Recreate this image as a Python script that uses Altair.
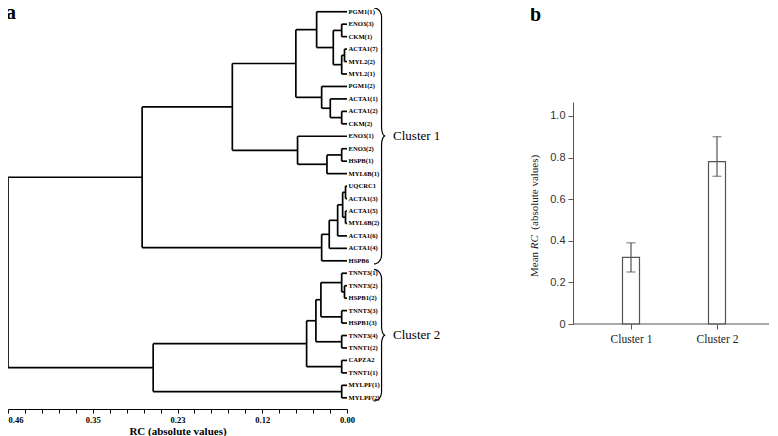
import altair as alt
import pandas as pd
import numpy as np

# ---------------- data: dendrogram (panel a) ----------------
leaves = ["PGM1(1)", "ENO3(3)", "CKM(1)", "ACTA1(7)", "MYL2(2)", "MYL2(1)", "PGM1(2)",
          "ACTA1(1)", "ACTA1(2)", "CKM(2)", "ENO3(1)", "ENO3(2)", "HSPB(1)", "MYL6B(1)",
          "UQCRC1", "ACTA1(3)", "ACTA1(5)", "MYL6B(2)", "ACTA1(6)", "ACTA1(4)", "HSPB6",
          "TNNT3(1)", "TNNT3(2)", "HSPB1(2)", "TNNT3(3)", "HSPB1(3)", "TNNT3(4)", "TNNT1(2)",
          "CAPZA2", "TNNT1(1)", "MYLPF(1)", "MYLPF(2)"]

merge_names = ["E", "G", "F", "D", "C", "J", "I", "H", "B", "M",
               "L", "K", "A", "R", "S", "Q", "P", "O", "N", "C1",
               "X", "W", "Y", "V", "Z", "U", "AA", "T", "BB", "C2", "ROOT"]
merge_left = ["ENO3(3)", "ACTA1(7)", "G", "E", "PGM1(1)", "ACTA1(2)", "ACTA1(1)", "PGM1(2)", "C", "ENO3(2)",
              "M", "ENO3(1)", "B", "UQCRC1", "ACTA1(5)", "R", "Q", "P", "O", "A",
              "TNNT3(2)", "TNNT3(1)", "TNNT3(3)", "W", "TNNT3(4)", "V", "CAPZA2", "U", "MYLPF(1)", "T", "C1"]
merge_right = ["CKM(1)", "MYL2(2)", "MYL2(1)", "F", "D", "CKM(2)", "J", "I", "H", "HSPB(1)",
               "MYL6B(1)", "L", "K", "ACTA1(3)", "MYL6B(2)", "S", "ACTA1(6)", "ACTA1(4)", "HSPB6", "N",
               "HSPB1(2)", "X", "HSPB1(3)", "Y", "TNNT1(2)", "Z", "TNNT1(1)", "AA", "MYLPF(2)", "BB", "C2"]
merge_height = [0.0072, 0.0034, 0.0072, 0.0186, 0.0412, 0.0072, 0.0227, 0.0344, 0.0694, 0.0072,
                0.0272, 0.0671, 0.1556, 0.002, 0.002, 0.0059, 0.0127, 0.0241, 0.0344, 0.278,
                0.0034, 0.0072, 0.0072, 0.0354, 0.0072, 0.0422, 0.0072, 0.0548, 0.0072, 0.263, 0.46]

cluster_names = ["Cluster 1", "Cluster 2"]
cluster_first = ["PGM1(1)", "TNNT3(1)"]
cluster_last = ["HSPB6", "MYLPF(2)"]

axis_major = [0.0, 0.115, 0.23, 0.345, 0.46]
axis_major_labels = ["0.00", "0.12", "0.23", "0.35", "0.46"]

# ---------------- data: bar chart (panel b) ----------------
bar_clusters = ["Cluster 1", "Cluster 2"]
bar_mean = [0.32, 0.78]
bar_lo = [0.25, 0.71]
bar_hi = [0.39, 0.90]

# ---------------- build dendrogram segments ----------------
pos = {name: (0.0, float(i)) for i, name in enumerate(leaves)}
segs = []
for nm, l, r, h in zip(merge_names, merge_left, merge_right, merge_height):
    xl, yl = pos[l]
    xr, yr = pos[r]
    segs.append((h, h, yl, yr))
    segs.append((xl, h, yl, yl))
    segs.append((xr, h, yr, yr))
    pos[nm] = (h, (yl + yr) / 2)
seg_df = pd.DataFrame(segs, columns=["x", "x2", "y", "y2"])

leaf_df = pd.DataFrame({"x": 0.0, "y": np.arange(len(leaves), dtype=float), "label": leaves})


def brace_points(top, bot):
    mid = (top + bot) / 2
    hook, stem, tip = -0.0367, -0.0469, -0.0517
    ry = 0.75
    t = np.linspace(0, np.pi / 2, 12)
    pts = []
    pts += list(zip(hook + (stem - hook) * np.sin(t), top + ry - ry * np.cos(t)))
    pts += list(zip(tip - (tip - stem) * np.cos(t), mid - ry + ry * np.sin(t)))
    pts += list(zip(tip - (tip - stem) * np.sin(t), mid + ry - ry * np.cos(t)))
    pts += list(zip(hook + (stem - hook) * np.cos(t), bot - ry + ry * np.sin(t)))
    return pts, mid


brace_rows, text_rows = [], []
for name, f, l in zip(cluster_names, cluster_first, cluster_last):
    top = leaves.index(f) - 0.3
    bot = leaves.index(l) + 0.25
    pts, mid = brace_points(top, bot)
    for k, (bx, by) in enumerate(pts):
        brace_rows.append({"cluster": name, "order": k, "x": bx, "y": by})
    text_rows.append({"x": -0.0625, "y": mid, "label": name})
brace_df = pd.DataFrame(brace_rows)
ctext_df = pd.DataFrame(text_rows)

tick_vals = [round(i * 0.023, 3) for i in range(21)]
label_expr = "''"
for v, s in zip(axis_major, axis_major_labels):
    label_expr = f"abs(datum.value - {v}) < 0.001 ? '{s}' : ({label_expr})"

serif = "Liberation Serif"
sans = "Liberation Sans"

xs = alt.Scale(domain=[0, 0.46], reverse=True, nice=False, zero=False)
ys = alt.Scale(domain=[-0.3, 31.9], reverse=True, nice=False, zero=False)
x_axis = alt.Axis(values=tick_vals, labelExpr=label_expr, tickSize=4, labelPadding=2,
                  labelFont=serif, labelFontWeight="bold", labelFontSize=8.5, labelColor="black",
                  labelAlign={"condition": {"test": "datum.value > 0.45", "value": "left"}, "value": "center"},
                  domainColor="black", tickColor="black", grid=False,
                  title="RC (absolute values)", titleFont=serif, titleFontWeight="bold",
                  titleFontSize=11, titlePadding=2, titleColor="black")
X = alt.X("x:Q", scale=xs, axis=x_axis)
Y = alt.Y("y:Q", scale=ys, axis=None)

W1, H1 = 339, 401

dend = alt.Chart(seg_df).mark_rule(color="black", strokeWidth=1.7).encode(x=X, x2="x2:Q", y=Y, y2="y2:Q")
leaf_text = alt.Chart(leaf_df).mark_text(align="left", baseline="middle", dx=1.5, font=serif,
                                         fontWeight="bold", fontSize=6.6, color="black").encode(x=X, y=Y, text="label:N")
braces = alt.Chart(brace_df).mark_line(color="black", strokeWidth=1.2).encode(
    x=X, y=Y, detail="cluster:N", order="order:Q")
ctext = alt.Chart(ctext_df).mark_text(align="left", baseline="middle", font=serif, fontSize=13,
                                      color="black").encode(x=X, y=Y, text="label:N")
a_lab = alt.Chart(pd.DataFrame({"t": ["a"]})).mark_text(
    align="left", baseline="alphabetic", font=serif, fontWeight="bold", fontSize=20, color="black"
).encode(x=alt.value(-2), y=alt.value(11), text="t:N")

left = alt.layer(dend, leaf_text, braces, ctext, a_lab).properties(width=W1, height=H1)

# ---------------- panel b ----------------
bar_df = pd.DataFrame({"cluster": bar_clusters, "mean": bar_mean, "lo": bar_lo, "hi": bar_hi})
W2, H2 = 196, 316
bx = alt.X("cluster:N", scale=alt.Scale(type="point", range=[58, 144], padding=0), sort=bar_clusters,
           axis=alt.Axis(title=None, labelAngle=0, tickSize=5, labelPadding=4, labelFont=serif,
                         labelFontSize=11.5, labelColor="#222", tickColor="#555", domain=False))
yscale = alt.Scale(domain=[0, 1.067], range=[316, 94], nice=False, zero=True)
y_axis = alt.Axis(values=[0, 0.2, 0.4, 0.6, 0.8, 1.0],
                  labelExpr="datum.value == 0 ? '0' : format(datum.value, '.1f')",
                  tickSize=5, labelPadding=3, domainColor="#555", tickColor="#555", labelColor="#333",
                  labelFont=sans, labelFontSize=11, grid=False, title=None)

bars = alt.Chart(bar_df).mark_bar(size=17, fill="white", stroke="#555", strokeWidth=1.2).encode(
    x=bx, y=alt.Y("mean:Q", scale=yscale, axis=y_axis))
err = alt.Chart(bar_df).mark_rule(color="#555", strokeWidth=1.2).encode(
    x=bx, y=alt.Y("lo:Q", scale=yscale, axis=y_axis), y2="hi:Q")
cap_lo = alt.Chart(bar_df).mark_tick(color="#555", size=9, thickness=1.2).encode(
    x=bx, y=alt.Y("lo:Q", scale=yscale, axis=y_axis))
cap_hi = alt.Chart(bar_df).mark_tick(color="#555", size=9, thickness=1.2).encode(
    x=bx, y=alt.Y("hi:Q", scale=yscale, axis=y_axis))
one = pd.DataFrame({"t": [""]})
baseline = alt.Chart(one).mark_rule(color="#555", strokeWidth=1).encode(
    x=alt.value(0), x2=alt.value(W2), y=alt.value(316))
b_lab = alt.Chart(pd.DataFrame({"t": ["b"]})).mark_text(
    align="left", baseline="alphabetic", font=serif, fontWeight="bold", fontSize=20, color="black"
).encode(x=alt.value(-43), y=alt.value(13), text="t:N")

fs = 11
w_mean = 2.527 * fs
w_rc = 1.278 * fs
w_sp = 0.5 * fs
y0 = 269
t1 = alt.Chart(pd.DataFrame({"t": ["Mean"]})).mark_text(
    align="left", baseline="middle", angle=270, font=serif, fontSize=fs, color="#222"
).encode(x=alt.value(-38), y=alt.value(y0), text="t:N")
t2 = alt.Chart(pd.DataFrame({"t": ["RC"]})).mark_text(
    align="left", baseline="middle", angle=270, font=serif, fontStyle="italic", fontSize=fs, color="#222"
).encode(x=alt.value(-38), y=alt.value(y0 - w_mean), text="t:N")
t3 = alt.Chart(pd.DataFrame({"t": ["(absolute values)"]})).mark_text(
    align="left", baseline="middle", angle=270, font=serif, fontSize=fs, color="#222"
).encode(x=alt.value(-38), y=alt.value(y0 - w_mean - w_rc - w_sp), text="t:N")

right = alt.layer(bars, err, cap_lo, cap_hi, baseline, b_lab, t1, t2, t3).properties(width=W2, height=H2)

chart = alt.hconcat(left, right, spacing=226, bounds="flush").properties(
    padding={"left": -2, "top": -5, "right": 0, "bottom": 0}
).configure_view(stroke=None)

chart.save("out.html", embed_options={"renderer": "svg", "actions": False})
